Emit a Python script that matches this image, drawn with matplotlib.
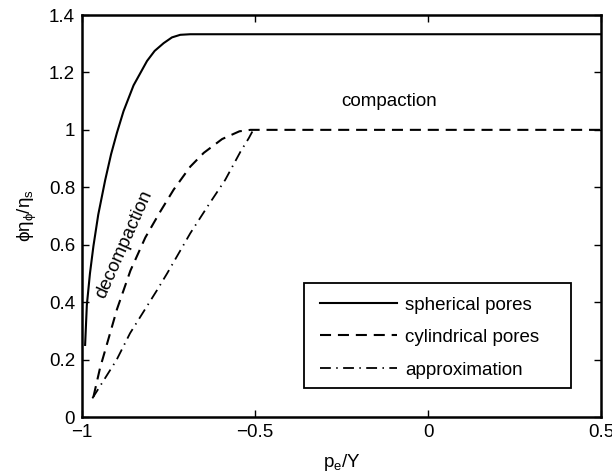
import matplotlib
matplotlib.use("Agg")
import matplotlib.pyplot as plt
from matplotlib.patches import Rectangle

plt.rcParams['font.family'] = ['Liberation Sans', 'DejaVu Sans']
plt.rcParams['mathtext.default'] = 'regular'

# spherical pores (solid)
sph_p = [-0.991, -0.986, -0.977, -0.967, -0.953, -0.933, -0.916, -0.899, -0.880,
         -0.851, -0.812, -0.790, -0.764, -0.740, -0.716, -0.687, 0.5]
sph_v = [0.251, 0.39, 0.50, 0.595, 0.705, 0.825, 0.915, 0.99, 1.065,
         1.155, 1.24, 1.275, 1.302, 1.322, 1.331, 1.333, 1.333]

# cylindrical pores (dashed)
cyl_p = [-0.967, -0.948, -0.924, -0.899, -0.86, -0.817, -0.774, -0.735, -0.687,
         -0.648, -0.595, -0.545, -0.513, 0.5]
cyl_v = [0.07, 0.17, 0.27, 0.375, 0.51, 0.625, 0.715, 0.792, 0.872,
         0.92, 0.968, 0.995, 1.0, 1.0]

# approximation (dash-dot)
apx_p = [-0.97, -0.9, -0.861, -0.783, -0.754, -0.687, -0.634, -0.586, -0.542, -0.518, -0.505]
apx_v = [0.065, 0.199, 0.292, 0.442, 0.5, 0.64, 0.739, 0.826, 0.924, 0.971, 1.0]

FS = 13.5

fig = plt.figure(figsize=(6.12, 4.76), dpi=100)
ax = fig.add_axes([82/612, 59/476, 519/612, 402/476])

ax.plot(sph_p, sph_v, 'k-', lw=1.5, label='spherical pores')
ax.plot(cyl_p, cyl_v, 'k--', lw=1.5, dashes=(5.3, 3.3), label='cylindrical pores')
ax.plot(apx_p, apx_v, 'k-.', lw=1.3, dashes=(6, 3, 0.8, 3), label='approximation')

ax.set_xlim(-1, 0.5)
ax.set_ylim(0, 1.4)
ax.set_xticks([-1, -0.5, 0, 0.5])
ax.set_xticklabels(['\u22121', '\u22120.5', '0', '0.5'])
ax.set_yticks([0, 0.2, 0.4, 0.6, 0.8, 1.0, 1.2, 1.4])
ax.set_yticklabels(['0', '0.2', '0.4', '0.6', '0.8', '1', '1.2', '1.4'])
ax.tick_params(direction='in', top=True, right=True, length=5, width=1, labelsize=FS, pad=5)
for s in ax.spines.values():
    s.set_linewidth(1.8)

ax.set_xlabel('p$_e$/Y', fontsize=FS, labelpad=8)
ax.set_ylabel('\u03d5\u03b7$_{\u03d5}$/\u03b7$_s$', fontsize=FS, labelpad=7)

ax.text(-0.113, 1.099, 'compaction', fontsize=FS, ha='center', va='center')
ax.text(-0.877, 0.6, 'decompaction', fontsize=FS, ha='center', va='center', rotation=66)

# legend box drawn separately (MATLAB style, wide right margin)
ax.add_patch(Rectangle((0.428, 0.072), 0.514, 0.261, transform=ax.transAxes,
                       facecolor='white', edgecolor='k', lw=1.3, zorder=4))
leg = ax.legend(loc='upper left', bbox_to_anchor=(0.4586, 0.300), borderaxespad=0,
                fontsize=FS, frameon=False, handlelength=4.1, borderpad=0,
                labelspacing=0.82, handletextpad=0.45)
leg.set_zorder(5)

fig.savefig('out.png', dpi=100)
